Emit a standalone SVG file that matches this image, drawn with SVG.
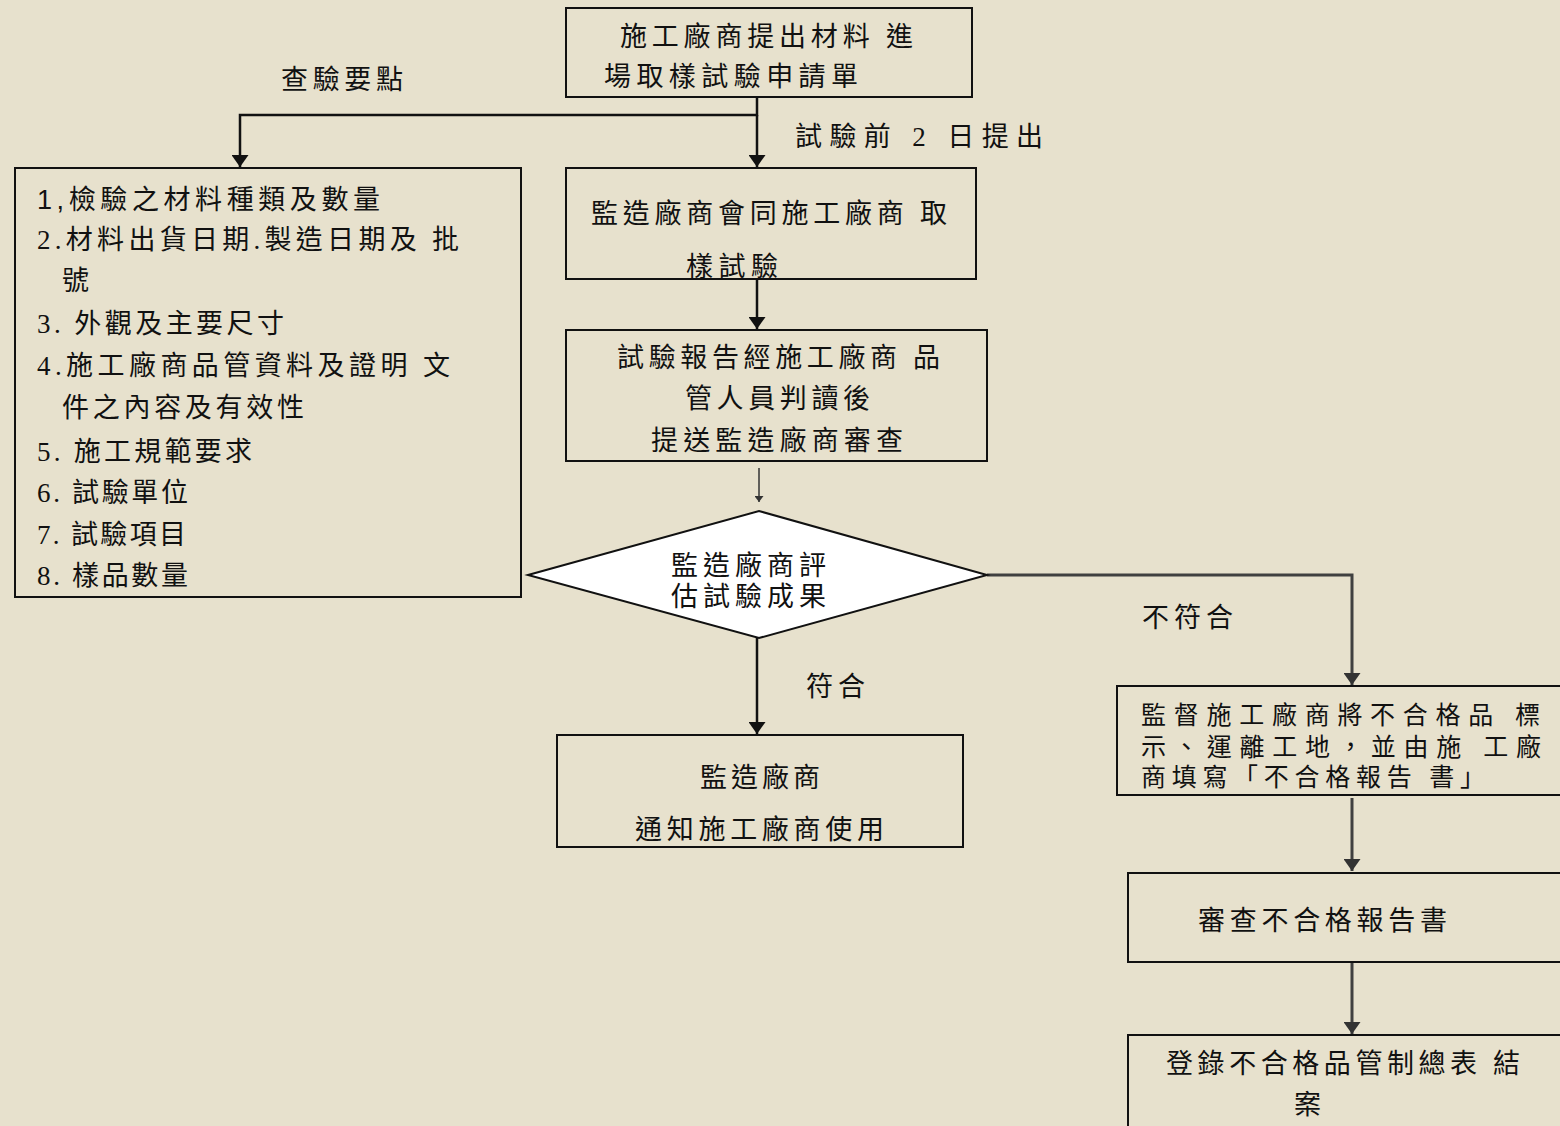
<svg xmlns="http://www.w3.org/2000/svg" width="1560" height="1126" viewBox="0 0 1560 1126">
<defs>
<style>
.bg{fill:#E7E1CD}
.box{fill:none;stroke:#111;stroke-width:2}
.dia{fill:#fff;stroke:#111;stroke-width:2}
.t{font-family:"Liberation Serif","Noto Sans CJK TC",serif;font-size:27px;fill:#111}
.sans{font-family:"Liberation Sans","Noto Sans CJK TC",sans-serif}
.s{font-size:25px}
.c{fill:none;stroke:#111;stroke-width:2.5}
.g{fill:none;stroke:#404040;stroke-width:3}
.th{fill:none;stroke:#333;stroke-width:1.5}
</style>
<marker id="ah" markerUnits="userSpaceOnUse" markerWidth="12" markerHeight="17" viewBox="0 0 12 17" refX="12" refY="8.5" orient="auto"><path d="M0,0 L12,8.5 L0,17 z" fill="#111"/></marker>
<marker id="ahg" markerUnits="userSpaceOnUse" markerWidth="12" markerHeight="17" viewBox="0 0 12 17" refX="12" refY="8.5" orient="auto"><path d="M0,0 L12,8.5 L0,17 z" fill="#333"/></marker>
<marker id="ahs" markerUnits="userSpaceOnUse" markerWidth="6" markerHeight="9" viewBox="0 0 6 9" refX="6" refY="4.5" orient="auto"><path d="M0,0 L6,4.5 L0,9 z" fill="#333"/></marker>
</defs>
<rect class="bg" x="0" y="0" width="1560" height="1126"/>

<g id="connectors">
<path class="c" d="M757,97 V115 H240 V167" marker-end="url(#ah)"/>
<path class="c" d="M757,115 V167" marker-end="url(#ah)"/>
<path class="c" d="M757,279 V329" marker-end="url(#ah)"/>
<path class="th" d="M759,468 V502" marker-end="url(#ahs)"/>
<path class="c" d="M757,638 V734" marker-end="url(#ah)"/>
<path class="g" d="M987,575 H1352 V685" marker-end="url(#ahg)"/>
<path class="g" d="M1352,798 V871" marker-end="url(#ahg)"/>
<path class="g" d="M1352,962 V1034" marker-end="url(#ahg)"/>
<text class="t" x="281" y="89" textLength="122" lengthAdjust="spacing">查驗要點</text>
<text class="t" x="795" y="146" textLength="248" lengthAdjust="spacing">試驗前 2 日提出</text>
<text class="t" x="806" y="696" textLength="59" lengthAdjust="spacing">符合</text>
<text class="t" x="1142" y="627" textLength="91" lengthAdjust="spacing">不符合</text>
</g>

<g id="n1">
<rect class="box" x="566" y="8" width="406" height="89"/>
<text class="t" x="620" y="46" textLength="293" lengthAdjust="spacing">施工廠商提出材料 進</text>
<text class="t" x="604" y="86" textLength="254" lengthAdjust="spacing">場取樣試驗申請單</text>
</g>

<g id="n2">
<rect class="box" x="15" y="168" width="506" height="429"/>
<text class="t sans" x="37" y="209" textLength="343" lengthAdjust="spacing">1,檢驗之材料種類及數量</text>
<text class="t" x="37" y="249" textLength="422" lengthAdjust="spacing">2.材料出貨日期.製造日期及 批</text>
<text class="t" x="62" y="290">號</text>
<text class="t" x="37" y="333" textLength="247" lengthAdjust="spacing">3. 外觀及主要尺寸</text>
<text class="t" x="37" y="375" textLength="413" lengthAdjust="spacing">4.施工廠商品管資料及證明 文</text>
<text class="t" x="62" y="417" textLength="242" lengthAdjust="spacing">件之內容及有效性</text>
<text class="t" x="37" y="461" textLength="215" lengthAdjust="spacing">5. 施工規範要求</text>
<text class="t" x="37" y="502" textLength="151" lengthAdjust="spacing">6. 試驗單位</text>
<text class="t" x="37" y="544" textLength="149" lengthAdjust="spacing">7. 試驗項目</text>
<text class="t" x="37" y="585" textLength="151" lengthAdjust="spacing">8. 樣品數量</text>
</g>

<g id="n3">
<rect class="box" x="566" y="168" width="410" height="111"/>
<text class="t" x="591" y="223" textLength="356" lengthAdjust="spacing">監造廠商會同施工廠商 取</text>
<text class="t" x="686" y="276" textLength="92" lengthAdjust="spacing">樣試驗</text>
</g>

<g id="n4">
<rect class="box" x="566" y="330" width="421" height="131"/>
<text class="t" x="617" y="367" textLength="323" lengthAdjust="spacing">試驗報告經施工廠商 品</text>
<text class="t" x="685" y="408" textLength="185" lengthAdjust="spacing">管人員判讀後</text>
<text class="t" x="651" y="450" textLength="252" lengthAdjust="spacing">提送監造廠商審查</text>
</g>

<g id="n5">
<polygon class="dia" points="528,575 759,511 987,575 759,638"/>
<text class="t" x="671" y="575" textLength="155" lengthAdjust="spacing">監造廠商評</text>
<text class="t" x="671" y="606" textLength="155" lengthAdjust="spacing">估試驗成果</text>
</g>

<g id="n6">
<rect class="box" x="557" y="735" width="406" height="112"/>
<text class="t" x="700" y="787" textLength="120" lengthAdjust="spacing">監造廠商</text>
<text class="t" x="635" y="839" textLength="249" lengthAdjust="spacing">通知施工廠商使用</text>
</g>

<g id="n7">
<rect class="box" x="1117" y="686" width="460" height="109"/>
<text class="t s" x="1141" y="724" textLength="399" lengthAdjust="spacing">監督施工廠商將不合格品  標</text>
<text class="t s" x="1141" y="756" textLength="400" lengthAdjust="spacing">示、運離工地，並由施  工廠</text>
<text class="t s" x="1141" y="786" textLength="344" lengthAdjust="spacing">商填寫「不合格報告 書」</text>
</g>

<g id="n8">
<rect class="box" x="1128" y="873" width="450" height="89"/>
<text class="t" x="1198" y="930" textLength="249" lengthAdjust="spacing">審查不合格報告書</text>
</g>

<g id="n9">
<rect class="box" x="1128" y="1035" width="450" height="110"/>
<text class="t" x="1166" y="1073" textLength="354" lengthAdjust="spacing">登錄不合格品管制總表 結</text>
<text class="t" x="1294" y="1114">案</text>
</g>
</svg>
